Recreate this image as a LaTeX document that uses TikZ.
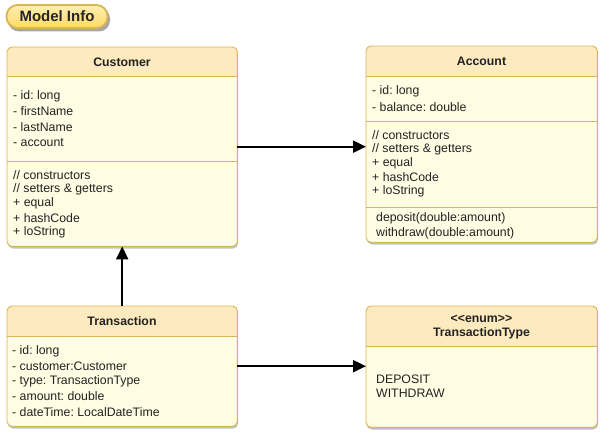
\documentclass[tikz,border=0pt]{standalone}
\usepackage{fontspec}
\setmainfont{Liberation Sans}
\usetikzlibrary{arrows.meta}
\definecolor{strokec}{HTML}{D6B656}
\definecolor{hdrc}{HTML}{FDEBBF}
\definecolor{bodyc}{HTML}{FFFDE3}
\definecolor{txtc}{HTML}{222222}
\definecolor{pilltop}{HTML}{FFEFB0}
\definecolor{pillbot}{HTML}{FFD966}
\frenchspacing
\newcommand\umlbox[6]{%
  \fill[black!40, opacity=0.6, rounded corners=5pt] (#2+1,#3+2.5) rectangle (#4+1,#5+2.5);
  \node[fill=bodyc, rounded corners=5pt, anchor=north west, minimum width=#4-#2, minimum height=#5-#3, inner sep=0pt] (#1) at (#2,#3) {};
  \begin{scope}
    \clip[rounded corners=5pt] (#2,#3) rectangle (#4,#5);
    \fill[hdrc] (#2,#3) rectangle (#4,#6);
  \end{scope}
  \draw[sep] (#2,#6) -- (#4,#6);
  \draw[draw=strokec, line width=0.9pt, rounded corners=5pt] (#1.north west) rectangle (#1.south east);
}
\begin{document}
\begin{tikzpicture}[x=1pt,y=-1pt,
  txt/.style={anchor=west, inner sep=0pt, font=\fontsize{12.3}{14}\selectfont\frenchspacing, text=txtc},
  ttl/.style={anchor=center, inner sep=0pt, font=\fontsize{12.3}{14}\selectfont\bfseries\frenchspacing, text=txtc},
  conn/.style={line width=2pt, -{Triangle[length=13pt,width=12pt]}},
  sep/.style={draw=strokec, line width=0.8pt}
]
\useasboundingbox (0,0) rectangle (605,436);

% Model Info pill
\fill[black!35, rounded corners=11pt] (8,7.5) rectangle (110,31.5);
\node[draw=strokec, line width=1.8pt, rounded corners=11pt, top color=pilltop, bottom color=pillbot,
      minimum width=101pt, minimum height=23pt, inner sep=0pt,
      font=\fontsize{15}{16}\selectfont\bfseries, text=black!85] (mi) at (57,16.5) {Model Info};

% Customer
\umlbox{customer}{7}{47}{237}{246}{76}
\draw[sep] (7,161) -- (237,161);
\node[ttl] (customerT) at (122,62) {Customer};
\node[txt] (c1) at (13,96) {- id: long};
\node[txt] (c2) at (13,111.5) {- firstName};
\node[txt] (c3) at (13,127) {- lastName};
\node[txt] (c4) at (13,142.5) {- account};
\node[txt] (c5) at (13,175) {// constructors};
\node[txt] (c6) at (13,189.5) {// setters \& getters};
\node[txt] (c7) at (13,203.5) {+ equal};
\node[txt] (c8) at (13,218) {+ hashCode};
\node[txt] (c9) at (13,232) {+ loString};

% Account
\umlbox{account}{366}{46}{597}{242}{76}
\draw[sep] (366,121) -- (597,121);
\draw[sep] (366,207) -- (597,207);
\node[ttl] (accountT) at (481.5,61.5) {Account};
\node[txt] (a1) at (372,91.5) {- id: long};
\node[txt] (a2) at (372,107.5) {- balance: double};
\node[txt] (a3) at (372,135) {// constructors};
\node[txt] (a4) at (372,149) {// setters \& getters};
\node[txt] (a5) at (372,163.5) {+ equal};
\node[txt] (a6) at (372,177.5) {+ hashCode};
\node[txt] (a7) at (372,191.5) {+ loString};
\node[txt] (a8) at (376,218) {deposit(double:amount)};
\node[txt] (a9) at (376,233) {withdraw(double:amount)};

% Transaction
\umlbox{transaction}{7}{306}{237}{426}{336}
\node[ttl] (transactionT) at (122,321.5) {Transaction};
\node[txt] (t1) at (12,351) {- id: long};
\node[txt] (t2) at (12,366) {- customer:Customer};
\node[txt] (t3) at (12,381) {- type: TransactionType};
\node[txt] (t4) at (12,396.5) {- amount: double};
\node[txt] (t5) at (12,412) {- dateTime: LocalDateTime};

% TransactionType
\umlbox{ttype}{366}{306}{597}{427}{346}
\node[ttl] (ttypeS) at (481.5,319) {<{}<enum>{}>};
\node[ttl] (ttypeT) at (481.5,333.5) {TransactionType};
\node[txt] (e1) at (376,379.5) {DEPOSIT};
\node[txt] (e2) at (376,393.5) {WITHDRAW};

% connectors
\draw[conn] (customer.east) -- (account.west |- customer.east);
\draw[conn] (transaction.north) -- (customer.south);
\draw[conn] (transaction.east) -- (ttype.west |- transaction.east);
\end{tikzpicture}
\end{document}
